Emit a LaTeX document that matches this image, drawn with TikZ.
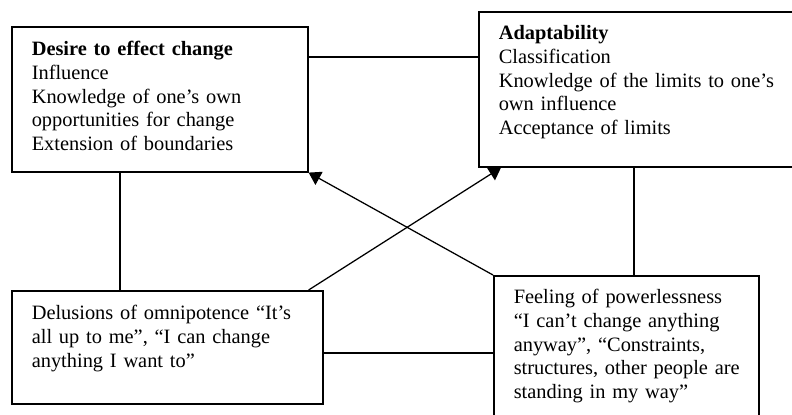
\documentclass[tikz,border=0pt]{standalone}
\usepackage{fontspec}
\setmainfont{Liberation Serif}
\usetikzlibrary{arrows.meta}

\begin{document}
\begin{tikzpicture}[x=0.025cm, y=-0.025cm,
    box/.style={draw, line width=1.1pt, anchor=north west, align=left, inner xsep=0.5cm, inner ysep=0pt, font=\fontsize{14.5}{16.8}\selectfont},
    link/.style={line width=0.9pt},
    push/.style={-{Triangle[length=8.5pt, width=10.5pt]}, line width=0.9pt}]
    \clip (0,0) rectangle (792,415);
    %four boxes
    \node[box, text width=6.4cm, text height=0.725cm, text depth=2.9cm] at (11,26) (desire){\textbf{Desire to effect change}\\ Influence\\ Knowledge of one’s own\\ opportunities for change\\ Extension of boundaries};
    \node[box, text width=7.05cm, text height=0.7cm, text depth=3.175cm] at (478,11) (adapt){\textbf{Adaptability}\\ Classification\\ Knowledge of the limits to one’s\\ own influence\\ Acceptance of limits};
    \node[box, text width=6.775cm, text height=0.725cm, text depth=2.1cm] at (11,290) (omni){Delusions of omnipotence “It’s\\ all up to me”, “I can change\\ anything I want to”};
    \node[box, text width=5.625cm, text height=0.7cm, text depth=3.425cm] at (493,275) (power){Feeling of powerlessness\\ “I can’t change anything\\ anyway”, “Constraints,\\ \mbox{structures, other people are}\\ standing in my way”};
    %plain links
    \coordinate (ab) at (0,57);
    \coordinate (ac) at (120,0);
    \coordinate (bd) at (634,0);
    \coordinate (cd) at (0,353);
    \draw[link] (desire.east |- ab) -- (adapt.west |- ab);
    \draw[link] (desire.south -| ac) -- (omni.north -| ac);
    \draw[link] (adapt.south -| bd) -- (power.north -| bd);
    \draw[link] (omni.east |- cd) -- (power.west |- cd);
    %crossing arrows
    \draw[push] ([xshift=-0.375cm]omni.north east) -- ([xshift=0.575cm]adapt.south west);
    \draw[push] (power.north west) -- (desire.south east);
\end{tikzpicture}
\end{document}
